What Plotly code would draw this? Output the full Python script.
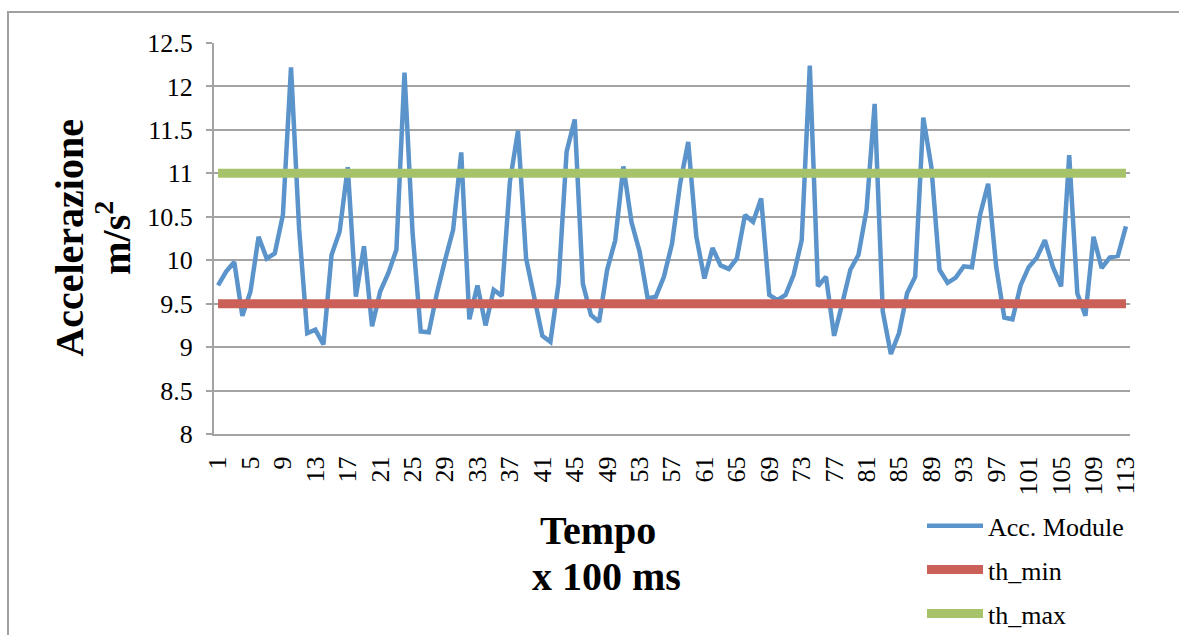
import plotly.graph_objects as go

acc_module = [
    9.71, 9.87, 9.98, 9.36, 9.64, 10.27, 10.02, 10.08, 10.52, 12.22,
    10.36, 9.16, 9.20, 9.03, 10.06, 10.33, 11.07, 9.58, 10.16, 9.24,
    9.64, 9.85, 10.12, 12.16, 10.31, 9.18, 9.17, 9.62, 10.00, 10.35,
    11.24, 9.32, 9.71, 9.25, 9.66, 9.59, 10.90, 11.49, 10.02, 9.55,
    9.13, 9.06, 9.73, 11.25, 11.62, 9.73, 9.37, 9.29, 9.89, 10.23,
    11.08, 10.44, 10.10, 9.56, 9.58, 9.81, 10.19, 10.88, 11.36, 10.27,
    9.79, 10.14, 9.94, 9.90, 10.02, 10.52, 10.44, 10.71, 9.60, 9.54,
    9.60, 9.83, 10.23, 12.24, 9.70, 9.81, 9.13, 9.50, 9.89, 10.06,
    10.58, 11.80, 9.41, 8.92, 9.16, 9.62, 9.81, 11.64, 11.07, 9.89,
    9.74, 9.80, 9.93, 9.92, 10.52, 10.88, 9.92, 9.34, 9.32, 9.71,
    9.92, 10.03, 10.23, 9.92, 9.70, 11.21, 9.62, 9.36, 10.27, 9.91,
    10.03, 10.05, 10.39,
]
samples = list(range(1, len(acc_module) + 1))
th_min = [9.5] * len(samples)
th_max = [11.0] * len(samples)
tick_vals = list(range(1, 114, 4))
tick_text = [str(v) for v in tick_vals]
y_ticks = [8, 8.5, 9, 9.5, 10, 10.5, 11, 11.5, 12, 12.5]

FONT = "Liberation Serif"
GRID = "#A3A3A3"

fig = go.Figure()
fig.add_trace(go.Scatter(x=samples, y=acc_module, mode="lines", name="Acc. Module",
                         line=dict(color="#5B93CB", width=4.5), legendgroup="a"))
fig.add_trace(go.Scatter(x=samples, y=th_min, mode="lines", name="th_min",
                         line=dict(color="#CB6059", width=9), legendgroup="b"))
fig.add_trace(go.Scatter(x=samples, y=th_max, mode="lines", name="th_max",
                         line=dict(color="#A7C36A", width=9), legendgroup="c"))

L, R, T, B = 214, 49, 43, 200.5
W, H = 1179, 635
pw, ph = W - L - R, H - T - B

def px(x):
    return (x - L) / pw

def py(y):
    return (H - B - y) / ph

def title_line(text, x, y, angle=0):
    return dict(text=text, textangle=angle, x=px(x), y=py(y), xref="paper",
                yref="paper", xanchor="center", yanchor="middle",
                showarrow=False, font=dict(family=FONT, size=40))

fig.update_layout(
    width=W, height=H,
    margin=dict(l=L, r=R, t=T, b=B, autoexpand=False),
    paper_bgcolor="white", plot_bgcolor="white",
    font=dict(family=FONT, size=26, color="black"),
    showlegend=True,
    legend=dict(x=px(922), y=py(503), xanchor="left", yanchor="top",
                font=dict(family=FONT, size=26), tracegroupgap=7,
                bgcolor="rgba(0,0,0,0)", itemwidth=56),
    xaxis=dict(range=[0.5, 113.5], tickvals=tick_vals, ticktext=tick_text,
               tickangle=-90, showgrid=False, showline=True, linecolor=GRID,
               linewidth=2, ticks="", zeroline=False, ticklabelstandoff=10,
               automargin=False, tickfont=dict(family=FONT, size=26)),
    yaxis=dict(range=[8, 12.5], tickvals=y_ticks, showgrid=True, gridcolor=GRID,
               gridwidth=2, showline=True, linecolor=GRID, linewidth=2,
               ticks="outside", ticklen=6, tickcolor=GRID, tickwidth=2,
               zeroline=False, ticklabelstandoff=8, automargin=False,
               tickfont=dict(family=FONT, size=26)),
    annotations=[
        title_line("<b>Accelerazione</b>", 70, 238, -90),
        title_line("<b>m/s<sup>2</sup></b>", 114, 238, -90),
        title_line("<b>Tempo</b>", 598, 531),
        title_line("<b>x 100 ms</b>", 606, 577),
    ],
    shapes=[
        dict(type="rect", xref="paper", yref="paper",
             x0=px(8), x1=px(1190), y0=py(650), y1=py(12),
             line=dict(color="#A0A0A0", width=2), layer="below"),
    ],
)

fig.write_html("out.html")
